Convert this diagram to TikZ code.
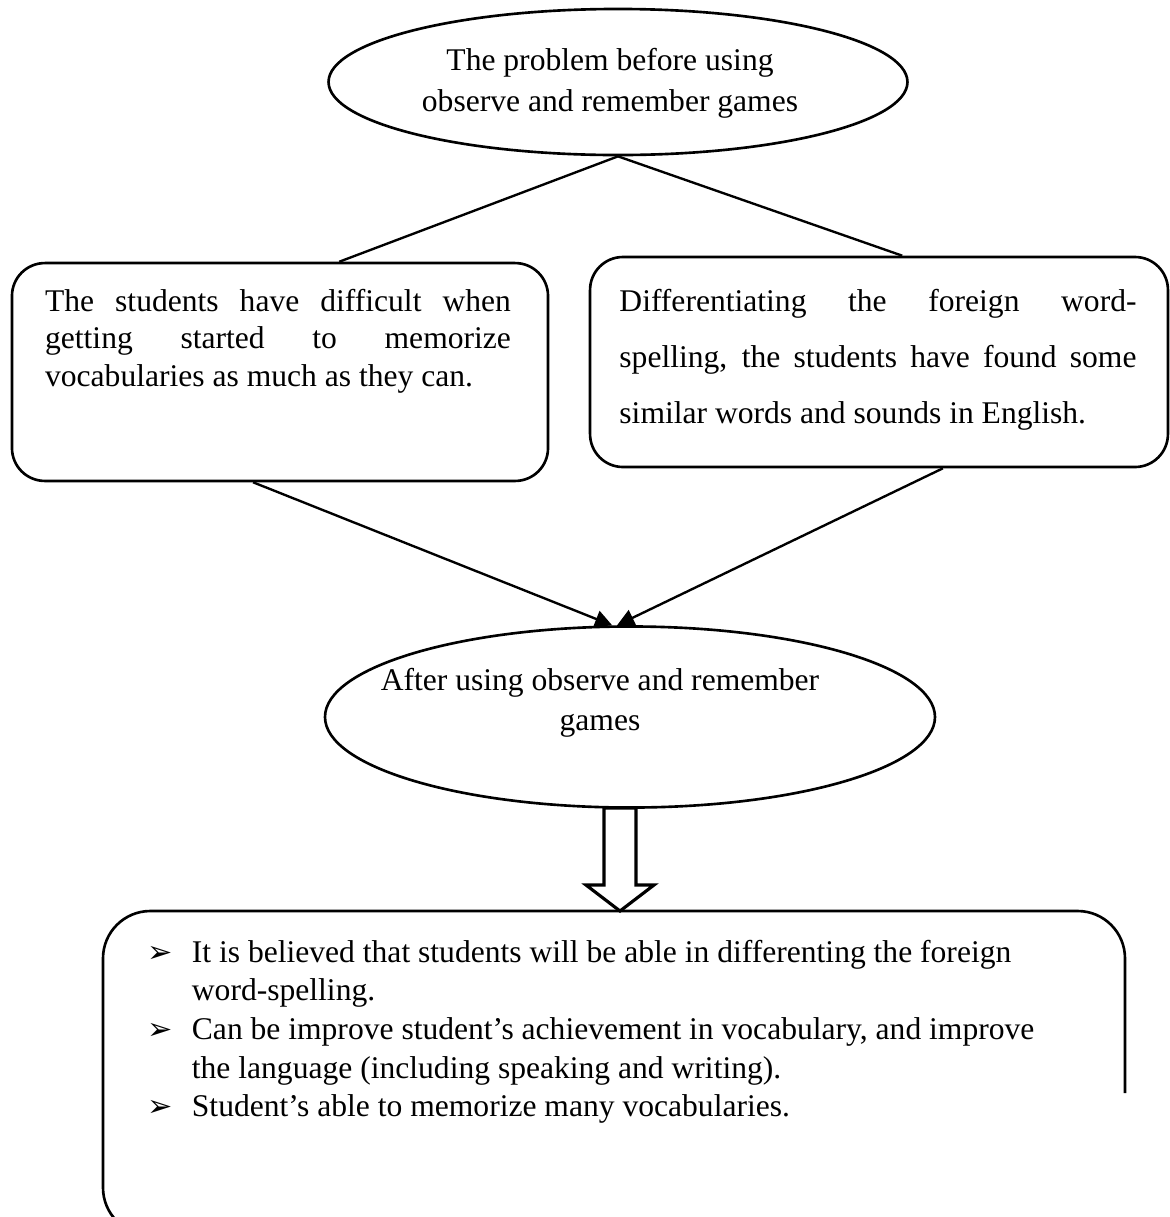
\documentclass[tikz,border=0pt]{standalone}
\usepackage{fontspec}
\setmainfont{Liberation Serif}
\newfontfamily\bulletfont{DejaVu Sans}
\usetikzlibrary{shapes.geometric, arrows.meta, calc}

\begin{document}
\begin{tikzpicture}[
    x=0.38pt, y=-0.38pt,
    line width=0.9pt,
    every node/.style={text=black, font=\fontsize{12}{14.5}\selectfont},
    bubble/.style={draw, ellipse, inner sep=0pt, line width=1pt},
    box/.style={draw, rounded corners=12.5pt, inner sep=0pt, line width=1pt},
    link/.style={-{Triangle[length=6.5pt, width=6.5pt]}},
    hollow/.style={line width=1.2pt, line join=miter}
]
    \useasboundingbox (0,0) rectangle (1170,1217);

    % --- Top ellipse ---
    \node[bubble, minimum width=220pt, minimum height=55.5pt] (before) at (618,82) {};
    \node[align=center, font=\fontsize{12}{15.6}\selectfont] (beforetxt) at (610,83)
        {The problem before using\\observe and remember games};

    % --- Problem boxes ---
    \node[box, minimum width=203.7pt, minimum height=82.8pt] (left) at (280,372) {};
    \node[align=justify, text width=177pt, font=\fontsize{12}{14.3}\selectfont] (lefttxt) at (278,341)
        {The students have difficult when\linebreak getting started to memorize\linebreak vocabularies as much as they can.};

    \node[box, minimum width=219.6pt, minimum height=79.8pt] (right) at (879,362) {};
    \node[align=justify, text width=196.5pt, font=\fontsize{12}{21.3}\selectfont] (righttxt) at (878,360)
        {Differentiating the foreign word-\linebreak spelling, the students have found some\linebreak similar words and sounds in English.};

    % --- Second ellipse ---
    \node[bubble, minimum width=231.8pt, minimum height=68.8pt] (after) at (630,717) {};
    \node[align=center, font=\fontsize{12}{15.2}\selectfont] (aftertxt) at (600,703)
        {After using observe and remember\\games};

    % --- Connectors ---
    \draw (before.south) -- ($(left.north west)!0.61!(left.north east)$);
    \draw (before.south) -- ($(right.north west)!0.54!(right.north east)$);
    \draw[link] ($(left.south west)!0.45!(left.south east)$) -- (after.101);
    \draw[link] ($(right.south west)!0.61!(right.south east)$) -- (after.98);

    % --- Hollow arrow ---
    \coordinate (tip) at (620,911);
    \draw[hollow] (tip) -- ++(-34,-26) -- ++(18,0) -- ++(0,-77) -- ++(32,0)
          -- ++(0,77) -- ++(18,0) -- cycle;

    % --- Result box (cut off by the page) ---
    \draw[line width=1pt, rounded corners=18pt] (1125,1093) -- (1125,911) -- (103,911)
          -- (103,1235) -- (1125,1235);

    \node[anchor=base west, inner sep=0pt, font=\fontsize{12}{14.7}\selectfont] (gains) at (146,962) {%
        \begin{tabular}[t]{@{}p{17pt}@{}l@{}}
            {\bulletfont\fontsize{11.5}{14.7}\selectfont ➢} & It is believed that students will be able in differenting the foreign\\
            & word-spelling.\\
            {\bulletfont\fontsize{11.5}{14.7}\selectfont ➢} & Can be improve student’s achievement in vocabulary, and improve\\
            & the language (including speaking and writing).\\
            {\bulletfont\fontsize{11.5}{14.7}\selectfont ➢} & Student’s able to memorize many vocabularies.
        \end{tabular}};

\end{tikzpicture}
\end{document}
